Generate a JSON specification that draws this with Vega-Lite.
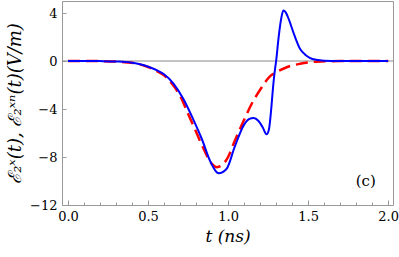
{
  "$schema": "https://vega.github.io/schema/vega-lite/v6.json",
  "width": 331,
  "height": 204,
  "autosize": "none",
  "padding": {"left": 62, "top": 1, "right": 6, "bottom": 52},
  "background": "white",
  "config": {
    "view": {"stroke": "#999999", "strokeWidth": 1},
    "font": "DejaVu Serif",
    "axis": {
      "labelFont": "DejaVu Serif",
      "labelFontSize": 13,
      "labelColor": "black",
      "titleFont": "DejaVu Serif",
      "titleColor": "black",
      "titleFontWeight": "normal",
      "domain": false,
      "grid": false,
      "tickColor": "#999999"
    }
  },
  "datasets": {
    "blue": [
      {"t": 0, "v": 0}, {"t": 0.1, "v": 0}, {"t": 0.2, "v": -0.01}, {"t": 0.3, "v": -0.04},
      {"t": 0.39, "v": -0.12}, {"t": 0.45, "v": -0.27}, {"t": 0.51, "v": -0.52}, {"t": 0.56, "v": -0.8},
      {"t": 0.6, "v": -1.1}, {"t": 0.66, "v": -1.9}, {"t": 0.72, "v": -3.15}, {"t": 0.78, "v": -4.8},
      {"t": 0.836, "v": -6.5}, {"t": 0.89, "v": -8.4}, {"t": 0.94, "v": -9.35}, {"t": 0.99, "v": -9.0},
      {"t": 1.04, "v": -7.2}, {"t": 1.1, "v": -5.3}, {"t": 1.13, "v": -4.85}, {"t": 1.16, "v": -4.75},
      {"t": 1.19, "v": -5.0}, {"t": 1.215, "v": -5.5}, {"t": 1.24, "v": -6.1}, {"t": 1.255, "v": -5.7},
      {"t": 1.27, "v": -3.9}, {"t": 1.28, "v": -2.3}, {"t": 1.29, "v": -1.0}, {"t": 1.3, "v": 0},
      {"t": 1.315, "v": 1.9}, {"t": 1.33, "v": 3.4}, {"t": 1.345, "v": 4.2}, {"t": 1.36, "v": 4.05},
      {"t": 1.38, "v": 3.45}, {"t": 1.41, "v": 2.3}, {"t": 1.45, "v": 1.0}, {"t": 1.48, "v": 0.55},
      {"t": 1.51, "v": 0.27}, {"t": 1.55, "v": 0.1}, {"t": 1.6, "v": 0.03}, {"t": 1.7, "v": 0},
      {"t": 2.0, "v": 0}
    ],
    "red": [
      {"t": 0, "v": 0}, {"t": 0.1, "v": 0}, {"t": 0.2, "v": -0.01}, {"t": 0.3, "v": -0.05},
      {"t": 0.4, "v": -0.15}, {"t": 0.5, "v": -0.5}, {"t": 0.55, "v": -0.8}, {"t": 0.6, "v": -1.2},
      {"t": 0.65, "v": -1.9}, {"t": 0.7, "v": -2.9}, {"t": 0.75, "v": -4.4}, {"t": 0.8, "v": -5.9},
      {"t": 0.85, "v": -7.4}, {"t": 0.9, "v": -8.6}, {"t": 0.93, "v": -8.85}, {"t": 0.96, "v": -8.7},
      {"t": 1.0, "v": -8.0}, {"t": 1.04, "v": -6.7}, {"t": 1.1, "v": -4.9}, {"t": 1.15, "v": -3.5},
      {"t": 1.2, "v": -2.4}, {"t": 1.26, "v": -1.3}, {"t": 1.3, "v": -0.95}, {"t": 1.37, "v": -0.5},
      {"t": 1.45, "v": -0.23}, {"t": 1.55, "v": -0.06}, {"t": 1.7, "v": -0.01}, {"t": 2.0, "v": 0}
    ],
    "zero": [{"v": 0}],
    "label": [{"t": 1.86, "v": -10, "text": "(c)"}]
  },
  "resolve": {"axis": {"x": "independent"}},
  "layer": [
    {
      "data": {"name": "blue"},
      "mark": {"type": "line", "color": "#0000ff", "strokeWidth": 0, "opacity": 0},
      "encoding": {
        "x": {"field": "t", "type": "quantitative", "scale": {"domain": [-0.0375, 2.03], "nice": false, "zero": false},
          "axis": {"orient": "bottom", "values": [0, 0.5, 1, 1.5, 2], "format": ".1f", "tickSize": -5, "labelPadding": 10,
            "title": "t (ns)", "titleFontSize": 17, "titleFontStyle": "italic", "titlePadding": 5}},
        "y": {"field": "v", "type": "quantitative", "scale": {"domain": [-12, 5], "nice": false, "zero": false},
          "axis": {"values": [-12, -8, -4, 0, 4], "tickSize": -4, "labelPadding": 9,
            "title": "ℰ₂ˣ(t), ℰ₂ˣⁿ(t)(V/m)", "titleFontSize": 18, "titleFontStyle": "italic", "titlePadding": 5}}
      }
    },
    {
      "data": {"name": "zero"},
      "mark": {"type": "rule", "color": "#888888", "strokeWidth": 1},
      "encoding": {
        "y": {"field": "v", "type": "quantitative"}
      }
    },
    {
      "data": {"name": "red"},
      "mark": {"type": "line", "color": "#ff0000", "strokeWidth": 2.5, "strokeDash": [12, 6], "interpolate": "monotone", "clip": true},
      "encoding": {
        "x": {"field": "t", "type": "quantitative",
          "axis": {"orient": "bottom", "values": [0.1,0.2,0.3,0.4,0.6,0.7,0.8,0.9,1.1,1.2,1.3,1.4,1.6,1.7,1.8,1.9], "labels": false, "tickSize": -3, "title": null}},
        "y": {"field": "v", "type": "quantitative"}
      }
    },
    {
      "data": {"name": "blue"},
      "mark": {"type": "line", "color": "#0000ff", "strokeWidth": 2, "interpolate": "monotone", "clip": true},
      "encoding": {
        "x": {"field": "t", "type": "quantitative", "axis": null},
        "y": {"field": "v", "type": "quantitative"}
      }
    },
    {
      "data": {"name": "label"},
      "mark": {"type": "text", "font": "DejaVu Serif", "fontSize": 15, "color": "black"},
      "encoding": {
        "x": {"field": "t", "type": "quantitative", "axis": null},
        "y": {"field": "v", "type": "quantitative"},
        "text": {"field": "text"}
      }
    }
  ]
}
